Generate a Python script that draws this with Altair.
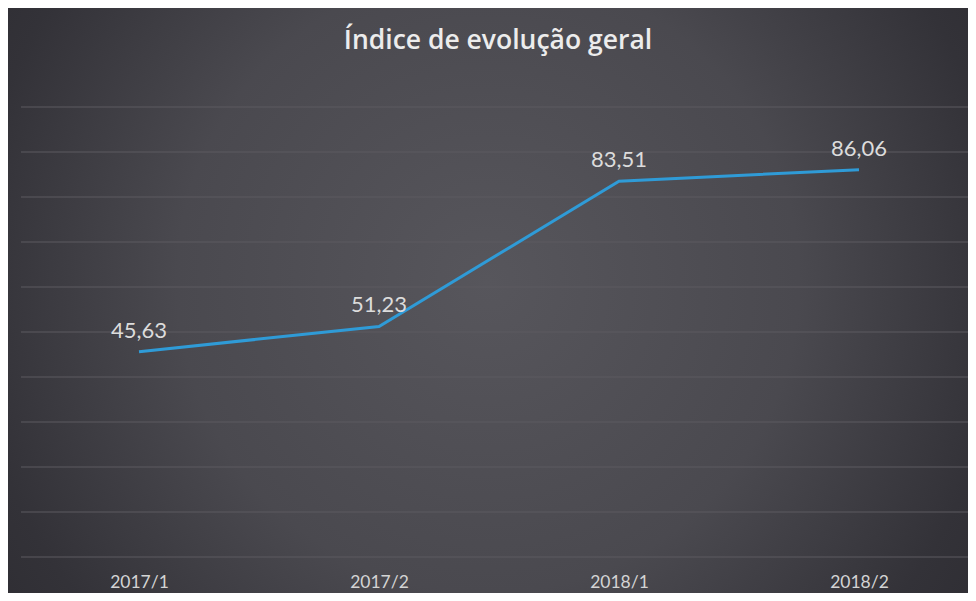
import altair as alt
import pandas as pd

categories = ["2017/1", "2017/2", "2018/1", "2018/2"]
values = [45.63, 51.23, 83.51, 86.06]
labels = [f"{v:.2f}".replace(".", ",") for v in values]
grid_values = list(range(0, 101, 10))
title_text = "Índice de evolução geral"

df = pd.DataFrame({"periodo": categories, "indice": values, "rotulo": labels})

W, H = 936, 450
LEFT = 23
FONT = "Lato"

xscale = alt.Scale(type="point", padding=0.45)
yscale = alt.Scale(domain=[0, 100])

xenc = alt.X(
    "periodo:N", sort=categories, scale=xscale,
    axis=alt.Axis(title=None, labelAngle=0, ticks=False, domain=False, grid=False, zindex=1,
                  labelFontSize=17.5, labelColor="#d4d4d4", labelFont=FONT, labelPadding=16),
)
yenc = alt.Y("indice:Q", scale=yscale, axis=None)

bg = alt.Chart(pd.DataFrame({"a": [0]})).mark_rect(
    fill=alt.RadialGradient(
        gradient="radial",
        stops=[
            alt.GradientStop(color="#57565c", offset=0),
            alt.GradientStop(color="#4a494f", offset=0.45),
            alt.GradientStop(color="#333238", offset=0.75),
            alt.GradientStop(color="#29282d", offset=1),
        ],
        x1=0.5, y1=0.48, r1=0, x2=0.5, y2=0.48, r2=0.72,
    )
).encode(x=alt.value(-LEFT), x2=alt.value(W + 1), y=alt.value(-99), y2=alt.value(H + 36))

grid = alt.Chart(pd.DataFrame({"g": grid_values})).mark_rule(
    color="#5c5b61", strokeWidth=1
).encode(y=alt.Y("g:Q", scale=yscale, axis=None), x=alt.value(-10), x2=alt.value(W + 1))

line = alt.Chart(df).mark_line(color="#2f9bd7", strokeWidth=3).encode(x=xenc, y=yenc)

text = alt.Chart(df).mark_text(
    font=FONT, fontSize=22, color="#dcdcdc", baseline="alphabetic", dy=-14
).encode(x=alt.X("periodo:N", sort=categories, scale=xscale), y=yenc, text="rotulo:N")

title = alt.Chart(pd.DataFrame({"t": [title_text]})).mark_text(
    font="Open Sans", fontSize=26.5, fontWeight=600, color="#ececec", baseline="alphabetic"
).encode(x=alt.value(498 - 8 - LEFT), y=alt.value(-58), text="t:N")

chart = alt.layer(bg, grid, line, text, title).properties(
    width=W, height=H,
    padding={"left": LEFT, "top": 99, "right": 1, "bottom": 36},
    autosize="none",
).configure_view(stroke=None).configure(background="#f4f4f4")

chart.save("out.html", embed_options={"renderer": "svg", "actions": False})
